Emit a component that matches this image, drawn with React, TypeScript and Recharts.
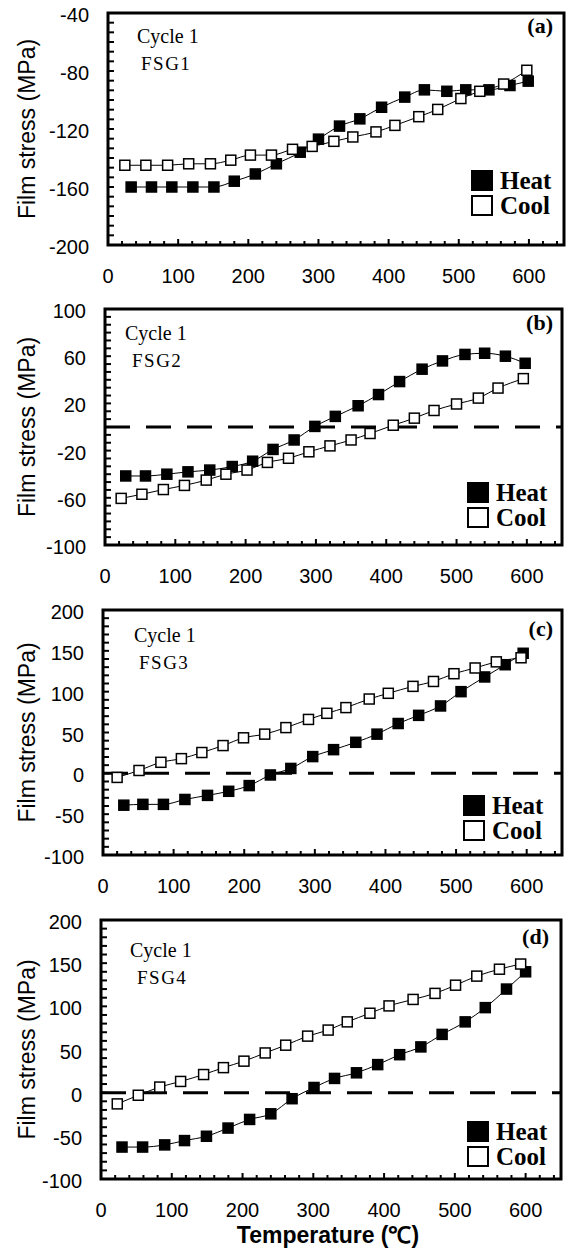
import React from "react";
import { LineChart, Line, XAxis, YAxis, ReferenceLine, ReferenceArea, Legend, Customized } from "recharts";

// (a) FSG1
const tHeatA = [33, 62, 91, 121, 151, 180, 210, 240, 274, 300, 330, 359, 390, 423, 451, 483, 510, 543, 573, 599];
const sHeatA = [-160, -160, -160, -160, -160, -156, -151, -144, -136, -127, -118, -113, -105, -98, -93, -94, -93, -93, -90, -87];
const tCoolA = [24, 54, 85, 115, 146, 175, 203, 233, 263, 291, 322, 349, 382, 409, 443, 470, 503, 530, 564, 597];
const sCoolA = [-145, -145, -145, -144, -144, -141.5, -138, -138, -134, -132, -128.5, -125.5, -122, -117.5, -111.5, -106.5, -99, -94, -89, -79.5];

// (b) FSG2
const tHeatB = [29.5, 57.6, 88, 118, 149, 181, 210, 239, 269, 298.5, 327.6, 360, 389, 419, 451, 480, 512, 540, 569.5, 597.6];
const sHeatB = [-41.5, -41.5, -40, -38, -36.5, -33.5, -29, -19, -11, 0.5, 9, 18, 27.5, 38.5, 49, 56, 61.5, 62.5, 60, 54];
const tCoolB = [23, 52.5, 83, 113, 144, 172, 202, 231, 261, 290, 320, 350, 377, 410, 440, 468, 500, 531, 559, 595];
const sCoolB = [-60.5, -57, -53, -49.5, -45, -40, -36.5, -30, -26.5, -21, -16, -11, -5.5, 1.5, 7.5, 14, 19.5, 24.5, 33, 41];

// (c) FSG3
const tHeatC = [29.5, 56.5, 85.6, 116, 148, 178, 207, 237, 266, 297, 326.5, 358, 388, 418, 447, 478, 507, 540.5, 569.5, 595];
const sHeatC = [-39, -38, -38, -32, -27, -22, -15, -2, 6, 20.5, 29, 38, 48, 61, 71, 82.5, 100, 118, 133, 147];
const tCoolC = [20, 51, 82, 111, 140, 170, 199, 229, 259, 291, 317, 344, 377, 404, 439, 468, 497, 527, 557, 592];
const sCoolC = [-5, 3.5, 13.5, 18, 25.5, 34, 43.5, 48, 56, 66, 73.5, 80.5, 91, 98, 106.5, 112.5, 122, 129, 136.5, 141.5];

// (d) FSG4
const tHeatD = [29.7, 58.8, 90, 118, 149, 179.5, 210, 240, 270, 301, 330, 361, 391, 422, 452, 482, 514.6, 543, 573, 600];
const sHeatD = [-63, -63, -60.5, -55.5, -50.5, -41, -31, -24.5, -7, 6, 16.5, 23, 32.5, 44, 53, 67.5, 82, 98.5, 120, 140];
const tCoolD = [23, 52.7, 83, 112.5, 145, 173, 202, 232, 261, 292, 321, 348, 380, 407, 441, 472, 501, 531, 563, 593];
const sCoolD = [-13, -3, 6.5, 13, 21, 29, 36.5, 46, 55, 65.5, 72.5, 82, 92, 100.5, 108, 115, 124.5, 135, 143, 149];

const tempLabels = [0, 100, 200, 300, 400, 500, 600];
const stressLabelsA = [-200, -160, -120, -80, -40];
const stressLabelsB = [-100, -60, -20, 20, 60, 100];
const stressLabelsCD = [-100, -50, 0, 50, 100, 150, 200];

const SANS = "'Liberation Sans', Arial, Helvetica, sans-serif";
const SERIF = "'Liberation Serif', 'Times New Roman', Times, serif";

type Pt = { t: number; s: number };
const zip = (t: number[], s: number[]): Pt[] => t.map((v, i) => ({ t: v, s: s[i] }));

function steps(lo: number, hi: number, step: number) {
  const out: number[] = [];
  const n = Math.round((hi - lo) / step);
  for (let i = 0; i <= n; i++) out.push(+(lo + i * step).toFixed(4));
  return out;
}
const isMajor = (v: number, majors: number[]) => majors.some((m) => Math.abs(m - v) < 1e-3);

const square = (filled: boolean) => (p: any) => {
  if (p.cx == null || p.cy == null) return <g key={p.index} />;
  return (
    <rect key={p.index} x={p.cx - 5} y={p.cy - 5} width={10} height={10}
      fill={filled ? "#000" : "#fff"} stroke="#000" strokeWidth={1.5} />
  );
};

const YTick = (majors: number[]) => (p: any) => {
  const v = p.payload.value;
  const major = isMajor(v, majors);
  return (
    <g>
      <line x1={p.x} x2={p.x + 6} y1={p.y} y2={p.y} stroke="#000" strokeWidth={2} />
      {major && (
        <text x={p.x - 19} y={p.y + 2} textAnchor="end" dominantBaseline="central"
          fontFamily={SANS} fontSize={20} fill="#000">{v}</text>
      )}
    </g>
  );
};

const XTick = (p: any) => {
  const v = p.payload.value;
  const major = isMajor(v, tempLabels);
  return (
    <g>
      <line x1={p.x} x2={p.x} y1={p.y} y2={p.y - (major ? 6 : 4)} stroke="#000" strokeWidth={2} />
      {major && (
        <text x={p.x} y={p.y + 31} textAnchor="middle" dominantBaseline="central"
          fontFamily={SANS} fontSize={20} fill="#000">{v}</text>
      )}
    </g>
  );
};

const LegendBox = () => (
  <div style={{ fontFamily: SERIF, fontWeight: "bold", fontSize: 25, lineHeight: "25px", color: "#000" }}>
    {[["Heat", "#000"], ["Cool", "#fff"]].map(([name, bg]) => (
      <div key={name} style={{ display: "flex", alignItems: "center", height: 25, whiteSpace: "nowrap" }}>
        <span style={{ display: "inline-block", width: 22, height: 21, boxSizing: "border-box", border: "2px solid #000", background: bg, marginRight: 7 }} />
        {name}
      </div>
    ))}
  </div>
);

type PanelCfg = {
  top: number; h: number; box: [number, number, number, number];
  heat: Pt[]; cool: Pt[]; domain: [number, number]; majors: number[]; step: number;
  zero: boolean; sample: string; tag: string; text: [number, number, number]; tagPos: [number, number];
  legend: [number, number]; title?: boolean;
};

const panels: PanelCfg[] = [
  { top: 0, h: 295, box: [13, 245, 108, 564], heat: zip(tHeatA, sHeatA), cool: zip(tCoolA, sCoolA),
    domain: [-200, -40], majors: stressLabelsA, step: 40 / 6, zero: false, sample: "FSG1", tag: "(a)",
    text: [137, 43, 141], tagPos: [553, 33], legend: [471, 168] },
  { top: 290, h: 305, box: [19, 255, 105, 562], heat: zip(tHeatB, sHeatB), cool: zip(tCoolB, sCoolB),
    domain: [-100, 100], majors: stressLabelsB, step: 20 / 3, zero: true, sample: "FSG2", tag: "(b)",
    text: [125, 50, 132], tagPos: [553, 40], legend: [467, 190] },
  { top: 580, h: 322, box: [30, 275, 103, 562], heat: zip(tHeatC, sHeatC), cool: zip(tCoolC, sCoolC),
    domain: [-100, 200], majors: stressLabelsCD, step: 10, zero: true, sample: "FSG3", tag: "(c)",
    text: [134, 62, 139], tagPos: [553, 56], legend: [463, 213] },
  { top: 890, h: 362, box: [30, 289, 101, 561], heat: zip(tHeatD, sHeatD), cool: zip(tCoolD, sCoolD),
    domain: [-100, 200], majors: stressLabelsCD, step: 10, zero: true, sample: "FSG4", tag: "(d)",
    text: [130, 67, 137], tagPos: [549, 54], legend: [467, 229], title: true },
];

function Panel({ c }: { c: PanelCfg }) {
  const [bTop, bBot, bLeft, bRight] = c.box;
  const W = 567;
  const yTicks = steps(c.domain[0], c.domain[1], c.step);
  const xTicks = steps(0, 640, 20);
  const midY = (bTop + bBot) / 2;
  const midX = (bLeft + bRight) / 2;
  return (
    <div style={{ position: "absolute", left: 0, top: c.top }}>
      <LineChart width={W} height={c.h} margin={{ top: bTop, right: W - bRight, left: 0, bottom: 0 }}>
        <XAxis type="number" dataKey="t" domain={[0, 650]} ticks={xTicks} interval={0} allowDataOverflow
          height={c.h - bBot} axisLine={false} tickLine={false} tickSize={0} tickMargin={0} tick={XTick} />
        <YAxis type="number" dataKey="s" domain={c.domain} ticks={yTicks} interval={0} allowDataOverflow
          width={bLeft} axisLine={false} tickLine={false} tickSize={0} tickMargin={0} tick={YTick(c.majors)} />
        <ReferenceArea x1={0} x2={650} y1={c.domain[0]} y2={c.domain[1]} fill="none" stroke="#000" strokeWidth={3} />
        {c.zero && <ReferenceLine y={0} stroke="#000" strokeWidth={3} strokeDasharray="25 16" />}
        <Line data={c.heat} dataKey="s" type="monotone" stroke="#000" strokeWidth={1}
          dot={square(true)} activeDot={false} isAnimationActive={false} />
        <Line data={c.cool} dataKey="s" type="monotone" stroke="#000" strokeWidth={1}
          dot={square(false)} activeDot={false} isAnimationActive={false} />
        <Legend layout="horizontal" verticalAlign="middle" align="center" content={() => <LegendBox />}
          wrapperStyle={{ left: c.legend[0], top: c.legend[1], width: 95, height: 50 }} />
        <Customized component={() => (
          <g>
            <text x={27} y={midY} transform={`rotate(-90 27 ${midY})`} textAnchor="middle" dominantBaseline="central"
              fontFamily={SANS} fontSize={23} fill="#000">Film stress (MPa)</text>
            <text x={c.text[0]} y={c.text[1]} fontFamily={SERIF} fontSize={20} fill="#000">Cycle 1</text>
            <text x={c.text[2]} y={c.text[1] + 27} fontFamily={SERIF} fontSize={19} letterSpacing={1.5} fill="#000">{c.sample}</text>
            <text x={c.tagPos[0]} y={c.tagPos[1]} textAnchor="end" fontFamily={SERIF} fontWeight="bold" fontSize={22} fill="#000">{c.tag}</text>
            {c.title && (
              <text x={midX - 3} y={bBot + 56} textAnchor="middle" dominantBaseline="central"
                fontFamily={SANS} fontWeight="bold" fontSize={23} fill="#000">Temperature (℃)</text>
            )}
          </g>
        )} />
      </LineChart>
    </div>
  );
}

export default function App() {
  return (
    <div style={{ position: "absolute", left: 0, top: 0, width: 567, height: 1252, background: "#fff" }}>
      {panels.map((c) => <Panel key={c.tag} c={c} />)}
    </div>
  );
}
